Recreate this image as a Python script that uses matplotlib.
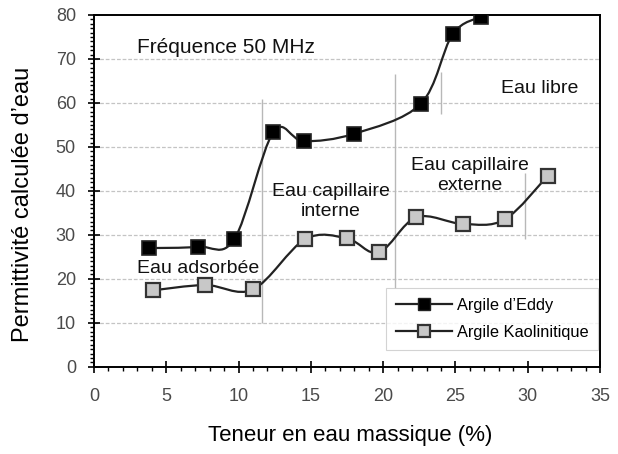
import numpy as np
import matplotlib
matplotlib.use("Agg")
import matplotlib.pyplot as plt
from matplotlib.path import Path
from matplotlib.patches import PathPatch
from matplotlib.lines import Line2D
from matplotlib.ticker import MultipleLocator

plt.rcParams["font.family"] = ["Liberation Sans", "DejaVu Sans"]

# Argile d'Eddy (carrés noirs)
eddy_x = [3.8, 7.2, 9.7, 12.4, 14.5, 18.0, 22.6, 24.8, 26.8]
eddy_y = [27.0, 27.3, 29.0, 53.3, 51.3, 53.0, 59.8, 75.6, 79.6]

# Argile Kaolinitique (carrés gris)
kao_x = [4.1, 7.7, 11.0, 14.6, 17.5, 19.7, 22.3, 25.5, 28.4, 31.4]
kao_y = [17.4, 18.6, 17.6, 29.0, 29.2, 26.0, 34.0, 32.5, 33.5, 43.5]

# séparations entre les domaines (x, y bas, y haut)
sep_x = [11.6, 20.8, 24.0, 29.8]
sep_lo = [10.0, 18.0, 57.5, 29.0]
sep_hi = [61.0, 66.5, 67.0, 44.0]

zones = ["Fréquence 50 MHz", "Eau libre", "Eau capillaire\nexterne",
         "Eau capillaire\ninterne", "Eau adsorbée"]
zone_x = [3.0, 30.8, 26.0, 16.4, 7.2]
zone_y = [72.7, 63.3, 43.5, 37.6, 22.4]
zone_ha = ["left", "center", "center", "center", "center"]
zone_fs = [15, 14, 14, 14, 14]


def smooth_path(xs, ys):
    # courbe lissée façon tableur (Catmull-Rom -> Bézier)
    p = np.column_stack([xs, ys]).astype(float)
    pts = np.vstack([p[0], p, p[-1]])
    verts = [p[0]]
    codes = [Path.MOVETO]
    for i in range(1, len(pts) - 2):
        c1 = pts[i] + (pts[i + 1] - pts[i - 1]) / 6
        c2 = pts[i + 1] - (pts[i + 2] - pts[i]) / 6
        verts += [c1, c2, pts[i + 1]]
        codes += [Path.CURVE4] * 3
    return Path(verts, codes)


fig = plt.figure(figsize=(6.18, 4.54), dpi=100)
ax = fig.add_axes([0.152, 0.192, 0.819, 0.775])

ax.set_xlim(0, 35)
ax.set_ylim(0, 80)
ax.xaxis.set_major_locator(MultipleLocator(5))
ax.xaxis.set_minor_locator(MultipleLocator(1))
ax.yaxis.set_major_locator(MultipleLocator(10))
ax.yaxis.set_minor_locator(MultipleLocator(1))
ax.tick_params(which="major", direction="inout", length=8, width=1.2,
               labelsize=13, labelcolor="#4a4a4a")
ax.tick_params(axis="x", which="major", pad=11)
ax.tick_params(axis="y", which="major", pad=9)
ax.tick_params(which="minor", direction="out", length=3, width=1.0)
for s in ax.spines.values():
    s.set_linewidth(1.4)

for yv in range(10, 80, 10):
    ax.axhline(yv, color="#c4c4c4", lw=0.9, ls=(0, (3, 1.5)), zorder=0)

ax.vlines(sep_x, sep_lo, sep_hi, colors="#b8b8b8", lw=1.0, zorder=1)

for xs, ys in [(eddy_x, eddy_y), (kao_x, kao_y)]:
    ax.add_patch(PathPatch(smooth_path(xs, ys), fill=False, ec="#222222",
                           lw=1.6, zorder=2))

ax.plot(eddy_x, eddy_y, ls="none", marker="s", ms=9.5, mfc="black",
        mec="#222222", mew=1.2, zorder=3)
ax.plot(kao_x, kao_y, ls="none", marker="s", ms=9.5, mfc="#c8c8c8",
        mec="#333333", mew=1.6, zorder=3)

for t, x, y, ha, fs in zip(zones, zone_x, zone_y, zone_ha, zone_fs):
    ax.text(x, y, t, ha=ha, va="center", fontsize=fs, color="#111111",
            linespacing=1.25)

handles = [
    Line2D([], [], color="#222222", lw=1.6, marker="s", ms=9, mfc="black",
           mec="#222222"),
    Line2D([], [], color="#222222", lw=1.6, marker="s", ms=9, mfc="#c8c8c8",
           mec="#333333", mew=1.6),
]
leg = ax.legend(handles, ["Argile d’Eddy", "Argile Kaolinitique"],
                loc="lower right", bbox_to_anchor=(0.996, 0.048),
                borderaxespad=0, fontsize=11.8, frameon=True, fancybox=False,
                handlelength=3.4, borderpad=0.6, labelspacing=0.75,
                handletextpad=0.3)
leg.get_frame().set_edgecolor("#c8c8c8")
leg.get_frame().set_linewidth(0.8)

ax.set_xlabel("Teneur en eau massique (%)", fontsize=16)
ax.set_ylabel("Permittivité calculée d’eau", fontsize=17)
ax.xaxis.set_label_coords(0.506, -0.165)
ax.yaxis.set_label_coords(-0.118, 0.463)

fig.savefig("out.png", dpi=100)
